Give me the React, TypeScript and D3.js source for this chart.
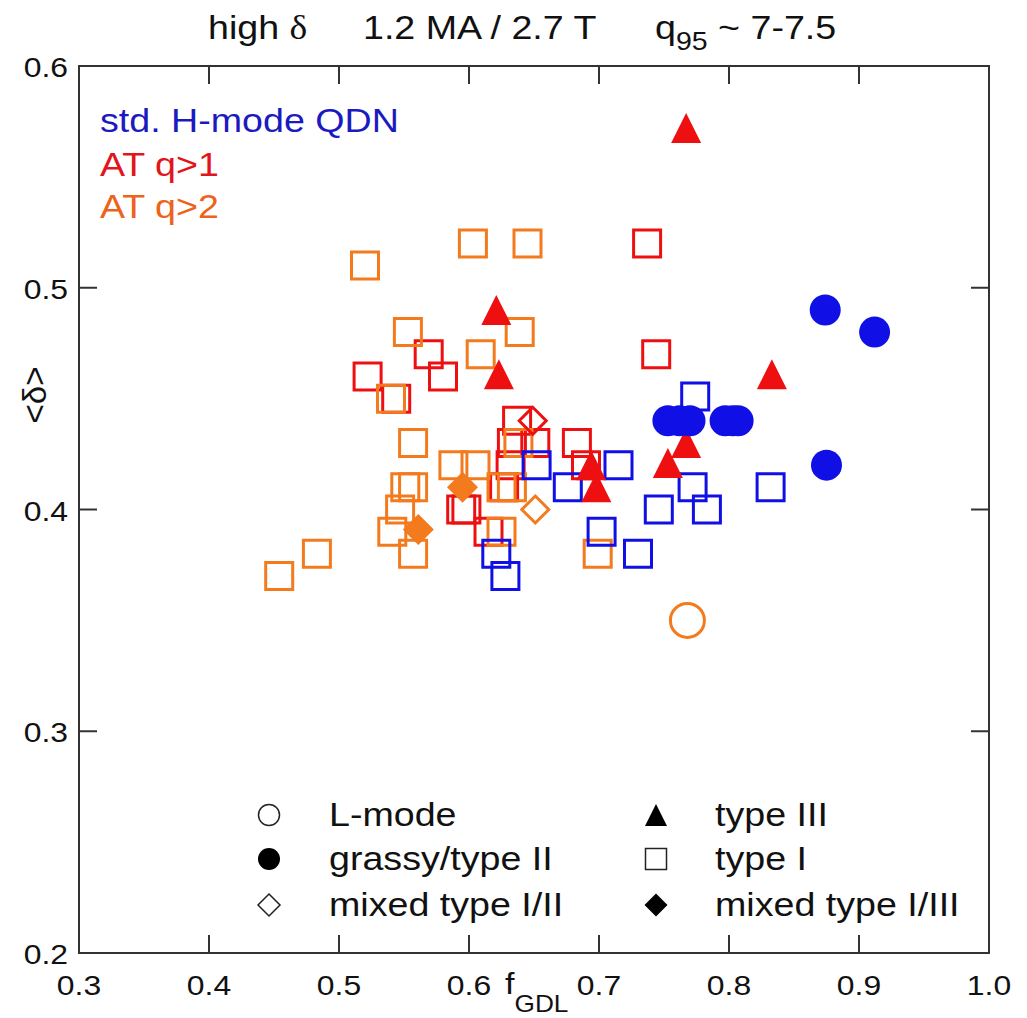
import React from 'react';
import * as d3 from 'd3';

const xTicks = [0.3, 0.4, 0.5, 0.6, 0.7, 0.8, 0.9, 1.0];
const xTickLabels = ['0.3', '0.4', '0.5', '0.6', '0.7', '0.8', '0.9', '1.0'];
const yTicks = [0.2, 0.3, 0.4, 0.5, 0.6];
const yTickLabels = ['0.2', '0.3', '0.4', '0.5', '0.6'];

type P = [number, number];

// std. H-mode QDN (blue)
const blueGrassy: P[] = [
  [0.874, 0.49], [0.912, 0.48], [0.875, 0.42],
  [0.753, 0.44], [0.762, 0.44], [0.770, 0.44], [0.797, 0.44], [0.803, 0.44], [0.807, 0.44],
];
const blueTypeI: P[] = [
  [0.774, 0.451], [0.652, 0.42], [0.715, 0.42], [0.676, 0.41], [0.772, 0.41], [0.783, 0.40],
  [0.746, 0.40], [0.832, 0.41], [0.702, 0.39], [0.730, 0.38], [0.621, 0.38], [0.628, 0.37],
];
// AT q>1 (red)
const redTypeI: P[] = [
  [0.737, 0.52], [0.744, 0.47], [0.569, 0.47], [0.522, 0.46], [0.580, 0.46], [0.544, 0.45],
  [0.637, 0.44], [0.633, 0.43], [0.651, 0.43], [0.632, 0.42], [0.683, 0.43], [0.690, 0.42],
  [0.594, 0.40], [0.598, 0.40], [0.615, 0.39], [0.627, 0.41],
];
const redTypeIII: P[] = [
  [0.767, 0.572], [0.621, 0.49], [0.623, 0.461], [0.833, 0.461], [0.694, 0.42], [0.698, 0.41],
  [0.753, 0.421], [0.767, 0.43],
];
const redMixedI_II: P[] = [[0.649, 0.44]];
// AT q>2 (orange)
const orangeTypeI: P[] = [
  [0.520, 0.51], [0.603, 0.52], [0.645, 0.52], [0.553, 0.48], [0.639, 0.48], [0.609, 0.47],
  [0.540, 0.45], [0.557, 0.43], [0.638, 0.43], [0.588, 0.42], [0.605, 0.42], [0.551, 0.41],
  [0.557, 0.41], [0.625, 0.41], [0.633, 0.41], [0.547, 0.40], [0.541, 0.39], [0.625, 0.39],
  [0.557, 0.38], [0.699, 0.38], [0.483, 0.38], [0.454, 0.37],
];
const orangeMixedI_II: P[] = [[0.651, 0.40]];
const orangeMixedI_III: P[] = [[0.595, 0.41], [0.561, 0.391]];
const orangeLmode: P[] = [[0.768, 0.35]];

const legendLeft = ['L-mode', 'grassy/type II', 'mixed type I/II'];
const legendRight = ['type III', 'type I', 'mixed type I/III'];

const BLUE = '#1010e6';
const RED = '#ee1010';
const ORANGE = '#f47a1e';
const SX = 1.14;
const FONT = "'Liberation Sans', Arial, sans-serif";

const x = d3.scaleLinear().domain([0.3, 1.0]).range([79, 989]);
const y = d3.scaleLinear().domain([0.2, 0.6]).range([953, 66]);

const sq = (h: number) => `M${-h},${-h}H${h}V${h}H${-h}Z`;
const tri = (h: number) => `M0,${-h}L${h},${h}L${-h},${h}Z`;
const dia = (h: number) => `M0,${-h}L${h},0L0,${h}L${-h},0Z`;

function T(props: any) {
  const { x: tx, y: ty, anchor = 'start', size = 28, fill = '#111', children, family = FONT } = props;
  return (
    <text
      transform={`translate(${tx},${ty}) scale(${SX},1)`}
      textAnchor={anchor}
      fontSize={size}
      fill={fill}
      fontFamily={family}
      style={{ whiteSpace: 'pre' }}
    >
      {children}
    </text>
  );
}

function Marks({ data, d, fill, stroke, sw = 3 }: any) {
  return (
    <g>
      {data.map((p: P, i: number) => (
        <path
          key={i}
          d={d}
          transform={`translate(${x(p[0])},${y(p[1])})`}
          fill={fill}
          stroke={stroke}
          strokeWidth={sw}
        />
      ))}
    </g>
  );
}

function Circles({ data, r, fill, stroke, sw = 3 }: any) {
  return (
    <g>
      {data.map((p: P, i: number) => (
        <circle key={i} cx={x(p[0])} cy={y(p[1])} r={r} fill={fill} stroke={stroke} strokeWidth={sw} />
      ))}
    </g>
  );
}

export default function App() {
  const [x0, x1] = x.range();
  const [y0, y1] = y.range();
  const TL = 18;
  const legRows = [815, 859, 905];
  return (
    <svg width={1027} height={1018} style={{ position: 'absolute', left: 0, top: 0, background: '#fff' }}>
      <rect x={0} y={0} width={1027} height={1018} fill="#fff" />
      {/* title */}
      <T x={208} y={39} size={33}>high <tspan fontFamily="'Liberation Serif', serif">δ</tspan></T>
      <T x={363} y={39} size={33}>1.2 MA / 2.7 T</T>
      <T x={655} y={39} size={33}>q<tspan fontSize={25} dy={11}>95</tspan><tspan dy={-11}> ~ 7-7.5</tspan></T>

      {/* data */}
      <Marks data={redTypeI} d={sq(13.5)} fill="none" stroke={RED} />
      <Marks data={orangeTypeI} d={sq(13.5)} fill="none" stroke={ORANGE} />
      <Marks data={blueTypeI} d={sq(13.5)} fill="none" stroke={BLUE} />
      <Marks data={redTypeIII} d={tri(15)} fill={RED} stroke="none" />
      <Marks data={redMixedI_II} d={dia(13.5)} fill="none" stroke={RED} />
      <Marks data={orangeMixedI_II} d={dia(13.5)} fill="none" stroke={ORANGE} />
      <Marks data={orangeMixedI_III} d={dia(15.5)} fill={ORANGE} stroke="none" />
      <Circles data={blueGrassy} r={15.5} fill={BLUE} stroke="none" />
      <Circles data={orangeLmode} r={17} fill="none" stroke={ORANGE} />

      {/* frame */}
      <rect x={x0} y={y1} width={x1 - x0} height={y0 - y1} fill="none" stroke="#333" strokeWidth={2} />
      {xTicks.slice(1, -1).map((t) => (
        <g key={'xt' + t}>
          <line x1={x(t)} x2={x(t)} y1={y0} y2={y0 - TL} stroke="#333" strokeWidth={2} />
          <line x1={x(t)} x2={x(t)} y1={y1} y2={y1 + TL} stroke="#333" strokeWidth={2} />
        </g>
      ))}
      {yTicks.slice(1, -1).map((t) => (
        <g key={'yt' + t}>
          <line x1={x0} x2={x0 + TL} y1={y(t)} y2={y(t)} stroke="#333" strokeWidth={2} />
          <line x1={x1} x2={x1 - TL} y1={y(t)} y2={y(t)} stroke="#333" strokeWidth={2} />
        </g>
      ))}
      {xTicks.map((t, i) => (
        <T key={'xl' + t} x={x(t)} y={995} anchor="middle" size={28}>{xTickLabels[i]}</T>
      ))}
      {yTicks.map((t, i) => (
        <T key={'yl' + t} x={68} y={y(t) + 11} anchor="end" size={28}>{yTickLabels[i]}</T>
      ))}

      {/* axis labels */}
      <T x={505} y={994} size={30}>f<tspan fontSize={23} dy={18}>GDL</tspan></T>
      <text transform="translate(46,395) rotate(-90)" textAnchor="middle" fontSize={33} fontFamily={FONT} fill="#111">
        {'<δ>'}
      </text>

      {/* group legend */}
      <T x={100} y={132} size={33} fill="#1a1ac0">std. H-mode QDN</T>
      <T x={100} y={176} size={33} fill="#e2141c">AT q&gt;1</T>
      <T x={100} y={218} size={33} fill="#ec641c">AT q&gt;2</T>

      {/* symbol legend */}
      <circle cx={269} cy={legRows[0]} r={10.5} fill="none" stroke="#222" strokeWidth={1.5} />
      <circle cx={269} cy={legRows[1]} r={11} fill="#000" />
      <path d={dia(11)} transform={`translate(269,${legRows[2]})`} fill="none" stroke="#222" strokeWidth={1.5} />
      <path d={tri(11)} transform={`translate(656,${legRows[0]})`} fill="#000" />
      <path d={sq(10.5)} transform={`translate(656,${legRows[1]})`} fill="none" stroke="#222" strokeWidth={1.5} />
      <path d={dia(11.5)} transform={`translate(656,${legRows[2]})`} fill="#000" />
      {legendLeft.map((s, i) => (
        <T key={'ll' + i} x={329} y={legRows[i] + 11} size={33}>{s}</T>
      ))}
      {legendRight.map((s, i) => (
        <T key={'lr' + i} x={715} y={legRows[i] + 11} size={33}>{s}</T>
      ))}
    </svg>
  );
}
